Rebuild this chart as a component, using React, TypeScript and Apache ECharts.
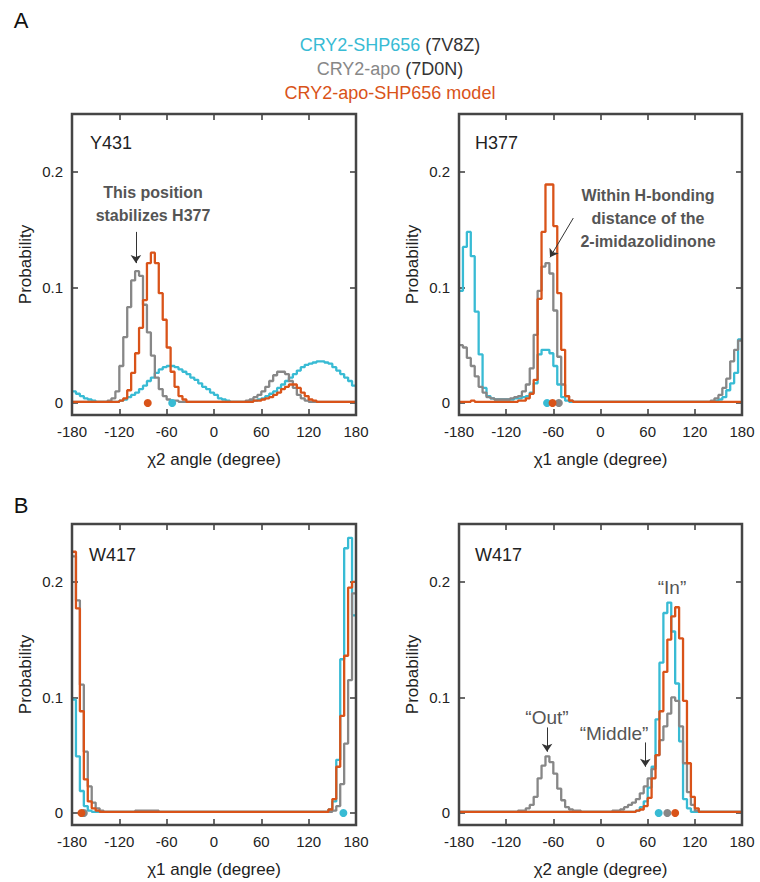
import React, { useEffect, useRef } from "react";
import * as echarts from "echarts";

// bin left edges (5-degree bins from -180 to 180)
const BIN_EDGES = Array.from({ length: 72 }, (_, i) => -180 + 5 * i);
const X_TICKS = [-180, -120, -60, 0, 60, 120, 180];
const Y_TICKS = [0, 0.1, 0.2];

// ---------- Panel A-left : Y431 chi2 ----------
const Y431_CYAN = [
  0.010, 0.008, 0.006, 0.004, 0.003, 0.002, 0.001, 0.001, 0.001, 0.001, 0.001, 0.001,
  0.002, 0.003, 0.005, 0.007, 0.009, 0.012, 0.015, 0.019, 0.022, 0.026, 0.029, 0.031,
  0.032, 0.032, 0.031, 0.029, 0.027, 0.025, 0.022, 0.020, 0.017, 0.014, 0.012, 0.009,
  0.007, 0.004, 0.003, 0.002, 0.001, 0.001, 0.001, 0.001, 0.001, 0.002, 0.002, 0.003,
  0.004, 0.006, 0.008, 0.010, 0.013, 0.016, 0.019, 0.022, 0.025, 0.028, 0.031, 0.033,
  0.034, 0.035, 0.036, 0.036, 0.035, 0.034, 0.031, 0.028, 0.025, 0.022, 0.019, 0.015,
];
const Y431_GRAY = [
  0.001, 0.001, 0.001, 0.001, 0.001, 0.001, 0.001, 0.001, 0.001, 0.002, 0.004, 0.010,
  0.032, 0.057, 0.083, 0.106, 0.114, 0.110, 0.085, 0.061, 0.041, 0.022, 0.012, 0.006,
  0.003, 0.002, 0.002, 0.001, 0.001, 0.001, 0.001, 0.001, 0.001, 0.001, 0.001, 0.001,
  0.001, 0.001, 0.001, 0.001, 0.001, 0.001, 0.001, 0.001, 0.002, 0.003, 0.005, 0.007,
  0.010, 0.014, 0.019, 0.024, 0.027, 0.027, 0.025, 0.019, 0.013, 0.007, 0.004, 0.002,
  0.001, 0.001, 0.001, 0.001, 0.001, 0.001, 0.001, 0.001, 0.001, 0.001, 0.001, 0.001,
];
const Y431_ORANGE = [
  0.001, 0.001, 0.001, 0.001, 0.001, 0.001, 0.001, 0.001, 0.001, 0.001, 0.001, 0.001,
  0.002, 0.004, 0.011, 0.026, 0.043, 0.065, 0.089, 0.121, 0.130, 0.121, 0.095, 0.072,
  0.048, 0.027, 0.014, 0.006, 0.003, 0.001, 0.001, 0.001, 0.001, 0.001, 0.001, 0.001,
  0.001, 0.001, 0.001, 0.001, 0.001, 0.001, 0.001, 0.001, 0.001, 0.001, 0.002, 0.002,
  0.003, 0.004, 0.005, 0.007, 0.009, 0.012, 0.014, 0.016, 0.016, 0.013, 0.009, 0.006,
  0.003, 0.002, 0.001, 0.001, 0.001, 0.001, 0.001, 0.001, 0.001, 0.001, 0.001, 0.001,
];
const Y431_DOTS = [-53, null, -84]; // cyan, gray, orange
const Y431_ARROWS = [[[-99, 0.148], [-99, 0.121]]];

// ---------- Panel A-right : H377 chi1 ----------
const H377_CYAN = [
  0.097, 0.135, 0.148, 0.127, 0.079, 0.042, 0.013, 0.006, 0.004, 0.003, 0.003, 0.003,
  0.003, 0.003, 0.004, 0.004, 0.005, 0.006, 0.009, 0.017, 0.042, 0.046, 0.046, 0.043,
  0.032, 0.016, 0.005, 0.002, 0.001, 0.001, 0.001, 0.001, 0.001, 0.001, 0.001, 0.001,
  0.001, 0.001, 0.001, 0.001, 0.001, 0.001, 0.001, 0.001, 0.001, 0.001, 0.001, 0.001,
  0.001, 0.001, 0.001, 0.001, 0.001, 0.001, 0.001, 0.001, 0.001, 0.001, 0.001, 0.001,
  0.001, 0.001, 0.001, 0.001, 0.001, 0.002, 0.003, 0.005, 0.011, 0.017, 0.026, 0.055,
];
const H377_GRAY = [
  0.050, 0.048, 0.039, 0.032, 0.023, 0.014, 0.009, 0.005, 0.004, 0.003, 0.003, 0.003,
  0.003, 0.004, 0.005, 0.006, 0.010, 0.016, 0.030, 0.059, 0.097, 0.118, 0.121, 0.112,
  0.080, 0.040, 0.016, 0.006, 0.002, 0.001, 0.001, 0.001, 0.001, 0.001, 0.001, 0.001,
  0.001, 0.001, 0.001, 0.001, 0.001, 0.001, 0.001, 0.001, 0.001, 0.001, 0.001, 0.001,
  0.001, 0.001, 0.001, 0.001, 0.001, 0.001, 0.001, 0.001, 0.001, 0.001, 0.001, 0.001,
  0.001, 0.001, 0.001, 0.001, 0.002, 0.004, 0.007, 0.013, 0.021, 0.036, 0.046, 0.054,
];
const H377_ORANGE = [
  0.001, 0.001, 0.001, 0.002, 0.001, 0.001, 0.001, 0.001, 0.001, 0.001, 0.001, 0.001,
  0.001, 0.001, 0.001, 0.002, 0.002, 0.004, 0.008, 0.020, 0.090, 0.148, 0.189, 0.189,
  0.153, 0.095, 0.046, 0.006, 0.002, 0.001, 0.001, 0.001, 0.001, 0.001, 0.001, 0.001,
  0.001, 0.001, 0.001, 0.001, 0.001, 0.001, 0.001, 0.001, 0.001, 0.001, 0.001, 0.001,
  0.001, 0.001, 0.001, 0.001, 0.001, 0.001, 0.001, 0.001, 0.001, 0.001, 0.001, 0.001,
  0.001, 0.001, 0.001, 0.001, 0.001, 0.001, 0.001, 0.001, 0.001, 0.001, 0.001, 0.001,
];
const H377_DOTS = [-68, -53, -61];
const H377_ARROWS = [[[-34.6, 0.160], [-64.2, 0.126]]];

// ---------- Panel B-left : W417 chi1 ----------
const W417X1_CYAN = [
  0.098, 0.049, 0.019, 0.006, 0.002, 0.001, 0.001, 0.001, 0.001, 0.001, 0.001, 0.001,
  0.001, 0.001, 0.001, 0.001, 0.001, 0.001, 0.001, 0.001, 0.001, 0.001, 0.001, 0.001,
  0.001, 0.001, 0.001, 0.001, 0.001, 0.001, 0.001, 0.001, 0.001, 0.001, 0.001, 0.001,
  0.001, 0.001, 0.001, 0.001, 0.001, 0.001, 0.001, 0.001, 0.001, 0.001, 0.001, 0.001,
  0.001, 0.001, 0.001, 0.001, 0.001, 0.001, 0.001, 0.001, 0.001, 0.001, 0.001, 0.001,
  0.001, 0.001, 0.001, 0.001, 0.001, 0.003, 0.010, 0.046, 0.133, 0.229, 0.238, 0.171,
];
const W417X1_GRAY = [
  0.222, 0.184, 0.111, 0.053, 0.023, 0.009, 0.004, 0.002, 0.001, 0.001, 0.001, 0.001,
  0.001, 0.001, 0.001, 0.001, 0.002, 0.002, 0.002, 0.002, 0.002, 0.002, 0.001, 0.001,
  0.001, 0.001, 0.001, 0.001, 0.001, 0.001, 0.001, 0.001, 0.001, 0.001, 0.001, 0.001,
  0.001, 0.001, 0.001, 0.001, 0.001, 0.001, 0.001, 0.001, 0.001, 0.001, 0.001, 0.001,
  0.001, 0.001, 0.001, 0.001, 0.001, 0.001, 0.001, 0.001, 0.001, 0.001, 0.001, 0.001,
  0.001, 0.001, 0.001, 0.001, 0.001, 0.001, 0.002, 0.006, 0.025, 0.060, 0.115, 0.190,
];
const W417X1_ORANGE = [
  0.226, 0.177, 0.088, 0.029, 0.010, 0.004, 0.002, 0.001, 0.001, 0.001, 0.001, 0.001,
  0.001, 0.001, 0.001, 0.001, 0.001, 0.001, 0.001, 0.001, 0.001, 0.001, 0.001, 0.001,
  0.001, 0.001, 0.001, 0.001, 0.001, 0.001, 0.001, 0.001, 0.001, 0.001, 0.001, 0.001,
  0.001, 0.001, 0.001, 0.001, 0.001, 0.001, 0.001, 0.001, 0.001, 0.001, 0.001, 0.001,
  0.001, 0.001, 0.001, 0.001, 0.001, 0.001, 0.001, 0.001, 0.001, 0.001, 0.001, 0.001,
  0.001, 0.001, 0.001, 0.001, 0.001, 0.003, 0.012, 0.040, 0.084, 0.136, 0.195, 0.200,
];
const W417X1_DOTS = [164, -165, -168];
const W417X1_ARROWS: number[][][] = [];

// ---------- Panel B-right : W417 chi2 ----------
const W417X2_CYAN = [
  0.001, 0.001, 0.001, 0.001, 0.001, 0.001, 0.001, 0.001, 0.001, 0.001, 0.001, 0.001,
  0.001, 0.001, 0.001, 0.001, 0.001, 0.001, 0.001, 0.001, 0.001, 0.001, 0.001, 0.001,
  0.001, 0.001, 0.001, 0.001, 0.001, 0.001, 0.001, 0.001, 0.001, 0.001, 0.001, 0.001,
  0.001, 0.001, 0.001, 0.001, 0.001, 0.001, 0.001, 0.001, 0.001, 0.002, 0.005, 0.010,
  0.022, 0.040, 0.081, 0.130, 0.173, 0.182, 0.157, 0.112, 0.062, 0.012, 0.004, 0.001,
  0.001, 0.001, 0.001, 0.001, 0.001, 0.001, 0.001, 0.001, 0.001, 0.001, 0.001, 0.001,
];
const W417X2_GRAY = [
  0.001, 0.001, 0.001, 0.001, 0.001, 0.001, 0.001, 0.001, 0.001, 0.001, 0.001, 0.001,
  0.001, 0.001, 0.001, 0.002, 0.002, 0.004, 0.007, 0.014, 0.030, 0.041, 0.049, 0.044,
  0.034, 0.021, 0.011, 0.005, 0.003, 0.002, 0.002, 0.001, 0.001, 0.001, 0.001, 0.001,
  0.001, 0.001, 0.001, 0.002, 0.002, 0.003, 0.005, 0.007, 0.009, 0.012, 0.017, 0.023,
  0.030, 0.038, 0.050, 0.063, 0.075, 0.086, 0.100, 0.097, 0.075, 0.043, 0.018, 0.007,
  0.002, 0.001, 0.001, 0.001, 0.001, 0.001, 0.001, 0.001, 0.001, 0.001, 0.001, 0.001,
];
const W417X2_ORANGE = [
  0.001, 0.001, 0.001, 0.001, 0.001, 0.001, 0.001, 0.001, 0.001, 0.001, 0.001, 0.001,
  0.001, 0.001, 0.001, 0.001, 0.001, 0.001, 0.001, 0.001, 0.001, 0.001, 0.001, 0.001,
  0.001, 0.001, 0.001, 0.001, 0.001, 0.001, 0.001, 0.001, 0.001, 0.001, 0.001, 0.001,
  0.001, 0.001, 0.001, 0.001, 0.001, 0.001, 0.001, 0.001, 0.001, 0.002, 0.003, 0.006,
  0.013, 0.030, 0.050, 0.088, 0.122, 0.150, 0.170, 0.178, 0.151, 0.097, 0.043, 0.014,
  0.004, 0.001, 0.001, 0.001, 0.001, 0.001, 0.001, 0.001, 0.001, 0.001, 0.001, 0.001,
];
const W417X2_DOTS = [74, 85, 95];
const W417X2_ARROWS = [
  [[-68, 0.074], [-68, 0.053]],
  [[57, 0.061], [57, 0.040]],
];

const COLORS = ["#38BBD4", "#878787", "#D95319"];
const FONT = '"Liberation Sans", Arial, Helvetica, sans-serif';
const FRAME = "#454545";

const PANELS = [
  { left: 72, top: 114, width: 284, xName: "\u03c72 angle (degree)", data: [Y431_CYAN, Y431_GRAY, Y431_ORANGE], dots: Y431_DOTS, arrows: Y431_ARROWS },
  { left: 459, top: 114, width: 283, xName: "\u03c71 angle (degree)", data: [H377_CYAN, H377_GRAY, H377_ORANGE], dots: H377_DOTS, arrows: H377_ARROWS },
  { left: 72, top: 524, width: 284, xName: "\u03c71 angle (degree)", data: [W417X1_CYAN, W417X1_GRAY, W417X1_ORANGE], dots: W417X1_DOTS, arrows: W417X1_ARROWS },
  { left: 459, top: 524, width: 283, xName: "\u03c72 angle (degree)", data: [W417X2_CYAN, W417X2_GRAY, W417X2_ORANGE], dots: W417X2_DOTS, arrows: W417X2_ARROWS },
];

function stepData(vals: number[]) {
  const d = vals.map((v, i) => [BIN_EDGES[i], v]);
  d.push([180, vals[vals.length - 1]]);
  return d;
}

function buildOption() {
  const grid: any[] = [];
  const xAxis: any[] = [];
  const yAxis: any[] = [];
  const series: any[] = [];
  const tickStyle = { color: FRAME, width: 1.6 };

  PANELS.forEach((p, i) => {
    grid.push({ left: p.left, top: p.top, width: p.width, height: 301, show: true, borderColor: FRAME, borderWidth: 2.5, z: 5 });
    const xBase = {
      type: "value", gridIndex: i, min: -180, max: 180, interval: 60,
      axisLine: { show: false, onZero: false }, splitLine: { show: false },
      axisTick: { inside: true, length: 6, lineStyle: tickStyle },
    };
    xAxis.push({
      ...xBase, position: "bottom",
      axisLabel: { fontSize: 15, color: "#222", margin: 9, fontFamily: FONT, showMinLabel: true, showMaxLabel: true, customValues: X_TICKS },
      name: p.xName, nameLocation: "middle", nameGap: 36,
      nameTextStyle: { fontSize: 17, color: "#222", fontFamily: FONT },
    });
    xAxis.push({ ...xBase, position: "top", axisLabel: { show: false } });
    const yBase = {
      type: "value", gridIndex: i, min: -0.0104, max: 0.25,
      axisLine: { show: false, onZero: false }, splitLine: { show: false },
      axisTick: { inside: true, length: 6, lineStyle: tickStyle, customValues: Y_TICKS },
    };
    yAxis.push({
      ...yBase, position: "left",
      axisLabel: { fontSize: 15, color: "#222", margin: 9, fontFamily: FONT, customValues: Y_TICKS, formatter: (v: number) => String(Math.round(v * 10) / 10) },
      name: "Probability", nameLocation: "middle", nameGap: 38,
      nameTextStyle: { fontSize: 17, color: "#222", fontFamily: FONT },
    });
    yAxis.push({ ...yBase, position: "right", axisLabel: { show: false } });

    p.data.forEach((vals, j) => {
      series.push({
        type: "line", xAxisIndex: 2 * i, yAxisIndex: 2 * i, step: "end",
        data: stepData(vals), symbol: "none", silent: true, z: 2 + j,
        lineStyle: { color: COLORS[j], width: 2.3 },
      });
    });
    p.dots.forEach((d, j) => {
      if (d === null) return;
      const s: any = {
        type: "scatter", xAxisIndex: 2 * i, yAxisIndex: 2 * i,
        data: [[d, 0]], symbolSize: 8, z: 10 + j, silent: true,
        itemStyle: { color: COLORS[j], opacity: 1 },
      };
      if (j === 2 && p.arrows.length) {
        s.markLine = {
          silent: true, symbol: ["none", "arrow"], symbolSize: 8,
          label: { show: false },
          lineStyle: { color: "#333", width: 1, type: "solid" },
          data: p.arrows.map((a) => [{ coord: a[0] }, { coord: a[1] }]),
        };
      }
      series.push(s);
    });
  });

  const t = (x: number, y: number, text: string, font: string, fill: string, align = "center", lineHeight?: number) => ({
    type: "text", x, y, silent: true,
    style: { text, font, fill, textAlign: align, textVerticalAlign: "middle", lineHeight },
  });

  const graphic: any[] = [
    t(21, 20, "A", `22px ${FONT}`, "#111"),
    t(21, 505, "B", `22px ${FONT}`, "#111"),
    {
      type: "text", x: 390, y: 45, silent: true,
      style: {
        text: "{c|CRY2-SHP656}{k| (7V8Z)}", textAlign: "center", textVerticalAlign: "middle",
        font: `18px ${FONT}`,
        rich: { c: { fill: COLORS[0], font: `18px ${FONT}` }, k: { fill: "#333", font: `18px ${FONT}` } },
      },
    },
    {
      type: "text", x: 390, y: 69, silent: true,
      style: {
        text: "{c|CRY2-apo}{k| (7D0N)}", textAlign: "center", textVerticalAlign: "middle",
        font: `18px ${FONT}`,
        rich: { c: { fill: COLORS[1], font: `18px ${FONT}` }, k: { fill: "#333", font: `18px ${FONT}` } },
      },
    },
    t(390, 93, "CRY2-apo-SHP656 model", `18px ${FONT}`, COLORS[2]),
    t(90, 143, "Y431", `18px ${FONT}`, "#222", "left"),
    t(475, 143, "H377", `18px ${FONT}`, "#222", "left"),
    t(89, 555, "W417", `18px ${FONT}`, "#222", "left"),
    t(475, 555, "W417", `18px ${FONT}`, "#222", "left"),
    t(153, 203.5, "This position\nstabilizes H377", `bold 16px ${FONT}`, "#555", "center", 23),
    t(648, 218, "Within H-bonding\ndistance of the\n2-imidazolidinone", `bold 16px ${FONT}`, "#555", "center", 23),
    t(672, 587, "\u201CIn\u201D", `19px ${FONT}`, "#555"),
    t(547, 717, "\u201COut\u201D", `19px ${FONT}`, "#555"),
    t(614, 733, "\u201CMiddle\u201D", `19px ${FONT}`, "#555"),
  ];

  return {
    animation: false,
    backgroundColor: "#fff",
    textStyle: { fontFamily: FONT },
    grid, xAxis, yAxis, series, graphic,
  };
}

export default function App() {
  const ref = useRef<HTMLDivElement>(null);
  useEffect(() => {
    const chart = echarts.init(ref.current!, null, { renderer: "svg" });
    chart.setOption(buildOption() as any);
    return () => chart.dispose();
  }, []);
  return <div ref={ref} style={{ position: "absolute", left: 0, top: 0, width: 760, height: 882 }} />;
}
